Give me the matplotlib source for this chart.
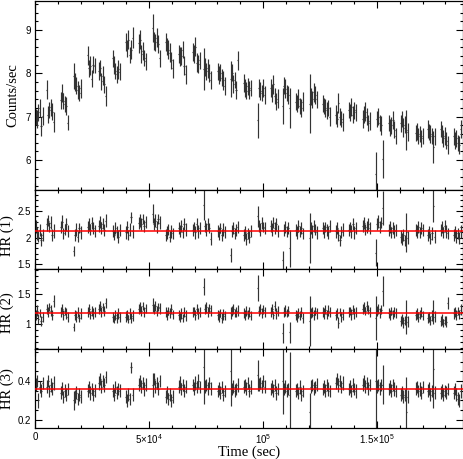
import numpy as np
import matplotlib
matplotlib.use("Agg")
import matplotlib.pyplot as plt
from matplotlib.ticker import MultipleLocator, FixedLocator, FixedFormatter, FuncFormatter

# ---------------- data ----------------
# start time (s) of each continuous data segment (satellite orbit)
clump_start = [0, 4825, 10965, 16667, 22807, 27632, 33772, 39474, 45176, 51316,
               57018, 62720, 68860, 73685, 79825, 85527, 91228, 97369, 103070,
               108334, 114036, 120176, 125878, 131580, 137281, 143422, 149124,
               154826, 160089, 166668, 171931, 177633, 183335]
bins_per_clump = 6
bin_width = 600.0

rate = [
    7.00, 6.95, 7.10, 7.20, 6.78, 7.02,
    7.62, 7.05, 7.15, 7.22, 7.12, 6.88,
    7.38, 7.55, 7.36, 7.30, 7.25, 6.86,
    7.95, 7.80, 7.72, 7.62, 7.55, 7.66,
    8.42, 8.12, 8.18, 7.88, 8.20, 8.18,
    8.05, 8.12, 7.82, 7.95, 7.75, 7.48,
    8.35, 8.20, 8.05, 7.98, 8.10, 8.04,
    8.72, 8.58, 8.78, 8.42, 8.55, 8.82,
    8.70, 8.78, 8.45, 8.52, 8.35, 8.28,
    9.05, 8.75, 8.72, 8.82, 8.68, 8.35,
    8.72, 8.62, 8.55, 8.48, 8.30, 8.12,
    8.45, 8.38, 8.40, 8.55, 8.18, 7.98,
    8.50, 8.45, 8.62, 8.25, 8.22, 8.30,
    8.10, 8.15, 8.05, 8.12, 8.00, 7.85,
    8.05, 7.96, 8.02, 7.90, 7.84, 7.70,
    7.87, 8.02, 7.75, 7.85, 7.62, 8.30,
    7.78, 7.66, 7.60, 7.70, 7.62, 7.66,
    6.92, 7.66, 7.60, 7.55, 7.66, 7.50,
    7.66, 7.55, 7.75, 7.48, 7.35, 7.42,
    7.25, 7.72, 7.65, 7.55, 7.50, 7.20,
    7.35, 7.30, 7.42, 7.25, 7.20, 7.35,
    7.30, 7.46, 7.40, 7.56, 7.50, 7.40,
    7.30, 7.25, 7.20, 7.15, 7.20, 7.00,
    7.05, 6.95, 7.32, 7.00, 6.95, 6.88,
    7.15, 7.10, 7.22, 7.05, 7.15, 7.10,
    6.95, 7.05, 7.12, 7.00, 6.85, 6.90,
    5.68, 6.95, 7.00, 6.85, 6.80, 6.02,
    6.86, 6.75, 6.80, 6.92, 6.70, 6.55,
    6.85, 6.95, 6.75, 6.82, 6.70, 6.65,
    6.62, 6.66, 6.55, 6.60, 6.50, 6.56,
    6.72, 6.65, 6.60, 6.55, 6.30, 6.55,
    6.72, 6.60, 6.50, 6.55, 6.45, 6.35,
    6.55, 6.45, 6.50, 6.40, 6.35, 6.72,
]
rate_err = [
    0.18, 0.20, 0.19, 0.21, 0.22, 0.20,
    0.22, 0.19, 0.18, 0.20, 0.19, 0.24,
    0.20, 0.21, 0.19, 0.18, 0.20, 0.17,
    0.30, 0.20, 0.19, 0.21, 0.18, 0.22,
    0.22, 0.20, 0.21, 0.19, 0.20, 0.18,
    0.21, 0.19, 0.20, 0.22, 0.20, 0.23,
    0.20, 0.21, 0.19, 0.20, 0.22, 0.20,
    0.21, 0.20, 0.22, 0.19, 0.21, 0.24,
    0.22, 0.21, 0.20, 0.21, 0.19, 0.20,
    0.32, 0.21, 0.20, 0.22, 0.21, 0.20,
    0.21, 0.20, 0.22, 0.21, 0.20, 0.22,
    0.20, 0.22, 0.21, 0.20, 0.21, 0.22,
    0.21, 0.20, 0.22, 0.21, 0.20, 0.19,
    0.48, 0.21, 0.20, 0.22, 0.21, 0.20,
    0.20, 0.21, 0.19, 0.20, 0.22, 0.21,
    0.42, 0.20, 0.21, 0.19, 0.20, 0.22,
    0.20, 0.21, 0.19, 0.20, 0.21, 0.19,
    0.40, 0.20, 0.21, 0.19, 0.20, 0.21,
    0.21, 0.20, 0.22, 0.19, 0.20, 0.21,
    0.42, 0.20, 0.21, 0.19, 0.20, 0.46,
    0.19, 0.20, 0.21, 0.19, 0.20, 0.21,
    0.68, 0.20, 0.19, 0.21, 0.20, 0.19,
    0.20, 0.19, 0.21, 0.20, 0.19, 0.22,
    0.21, 0.19, 0.23, 0.20, 0.19, 0.21,
    0.19, 0.20, 0.21, 0.19, 0.20, 0.19,
    0.20, 0.19, 0.21, 0.20, 0.19, 0.21,
    0.50, 0.19, 0.20, 0.19, 0.21, 0.44,
    0.19, 0.20, 0.19, 0.21, 0.20, 0.19,
    0.20, 0.19, 0.21, 0.20, 0.46, 0.20,
    0.19, 0.20, 0.19, 0.18, 0.20, 0.19,
    0.20, 0.19, 0.20, 0.19, 0.36, 0.20,
    0.19, 0.20, 0.19, 0.21, 0.19, 0.20,
    0.20, 0.19, 0.20, 0.19, 0.20, 0.21,
]

hr1 = [
    2.22, 2.08, 2.02, 2.15, 1.96, 2.05,
    2.25, 2.32, 2.20, 2.28, 2.05, 2.12,
    2.20, 2.30, 2.08, 2.15, 2.25, 2.12,
    1.75, 2.05, 2.15, 2.02, 2.18, 2.10,
    2.20, 2.25, 2.15, 2.28, 2.18, 2.12,
    2.22, 2.30, 2.18, 2.26, 2.15, 2.32,
    2.12, 2.05, 2.18, 2.10, 2.02, 2.15,
    2.10, 2.20, 2.05, 2.15, 2.38, 2.12,
    2.28, 2.32, 2.25, 2.35, 2.22, 2.30,
    2.45, 2.25, 2.32, 2.20, 2.35, 2.28,
    2.05, 2.10, 2.15, 2.02, 2.12, 2.08,
    2.18, 2.12, 2.22, 2.10, 2.25, 2.15,
    2.15, 2.20, 2.10, 2.25, 2.12, 2.18,
    2.62, 2.22, 2.15, 2.25, 2.18, 1.98,
    2.12, 2.08, 2.18, 2.05, 2.15, 2.10,
    1.67, 2.12, 2.18, 2.08, 2.15, 2.20,
    2.05, 2.10, 1.98, 2.08, 2.02, 2.12,
    2.40, 2.22, 2.15, 2.28, 2.20, 2.18,
    2.22, 2.15, 2.28, 2.18, 2.25, 2.12,
    1.58, 2.15, 2.20, 2.12, 2.18, 1.80,
    2.15, 2.10, 2.22, 2.12, 2.18, 2.08,
    2.00, 2.18, 2.12, 2.22, 2.15, 2.10,
    2.18, 2.12, 2.20, 2.15, 2.10, 2.22,
    2.12, 2.18, 2.05, 1.95, 2.10, 2.15,
    2.15, 2.20, 2.12, 2.25, 2.10, 2.18,
    2.22, 2.28, 2.15, 2.20, 2.25, 2.18,
    1.72, 2.25, 2.30, 2.20, 2.28, 2.55,
    2.15, 2.20, 2.10, 2.18, 2.12, 2.15,
    2.02, 1.98, 2.05, 1.95, 2.10, 2.00,
    2.15, 2.12, 2.20, 2.10, 2.18, 2.15,
    2.05, 2.10, 1.98, 2.08, 2.60, 2.02,
    2.15, 2.20, 2.10, 2.22, 2.12, 2.08,
    2.05, 2.10, 2.02, 2.08, 2.00, 2.12,
]
hr1_err = [
    0.11, 0.12, 0.10, 0.11, 0.12, 0.11,
    0.12, 0.11, 0.10, 0.12, 0.11, 0.13,
    0.11, 0.12, 0.11, 0.10, 0.12, 0.11,
    0.10, 0.11, 0.12, 0.11, 0.10, 0.12,
    0.11, 0.12, 0.10, 0.11, 0.12, 0.11,
    0.12, 0.11, 0.12, 0.10, 0.11, 0.12,
    0.11, 0.10, 0.12, 0.11, 0.12, 0.11,
    0.12, 0.11, 0.10, 0.12, 0.11, 0.12,
    0.11, 0.12, 0.11, 0.10, 0.12, 0.11,
    0.18, 0.11, 0.12, 0.11, 0.10, 0.12,
    0.11, 0.12, 0.10, 0.11, 0.12, 0.11,
    0.12, 0.11, 0.12, 0.10, 0.11, 0.12,
    0.11, 0.10, 0.12, 0.11, 0.12, 0.11,
    0.28, 0.11, 0.12, 0.11, 0.10, 0.12,
    0.11, 0.12, 0.10, 0.11, 0.12, 0.11,
    0.13, 0.11, 0.12, 0.10, 0.11, 0.12,
    0.11, 0.12, 0.11, 0.10, 0.12, 0.11,
    0.20, 0.11, 0.12, 0.11, 0.10, 0.12,
    0.11, 0.12, 0.10, 0.11, 0.12, 0.11,
    0.17, 0.11, 0.12, 0.10, 0.11, 0.35,
    0.11, 0.12, 0.11, 0.10, 0.12, 0.11,
    0.47, 0.11, 0.12, 0.11, 0.10, 0.12,
    0.11, 0.12, 0.10, 0.11, 0.12, 0.11,
    0.12, 0.11, 0.12, 0.10, 0.11, 0.12,
    0.11, 0.10, 0.12, 0.11, 0.12, 0.11,
    0.12, 0.11, 0.10, 0.12, 0.11, 0.12,
    0.26, 0.11, 0.12, 0.11, 0.10, 0.32,
    0.11, 0.12, 0.10, 0.11, 0.12, 0.11,
    0.12, 0.11, 0.12, 0.10, 0.36, 0.12,
    0.11, 0.12, 0.11, 0.10, 0.12, 0.11,
    0.12, 0.11, 0.10, 0.12, 0.30, 0.12,
    0.11, 0.12, 0.10, 0.11, 0.12, 0.11,
    0.12, 0.11, 0.12, 0.10, 0.11, 0.12,
]

hr2 = [
    1.15, 1.22, 1.08, 1.18, 1.05, 1.12,
    1.25, 1.20, 1.28, 1.22, 1.15, 1.38,
    1.20, 1.25, 1.15, 1.22, 1.18, 1.12,
    0.95, 1.15, 1.12, 1.20, 1.10, 1.18,
    1.20, 1.25, 1.15, 1.22, 1.18, 1.20,
    1.25, 1.30, 1.20, 1.28, 1.22, 1.35,
    1.12, 1.08, 1.15, 1.10, 1.18, 1.12,
    1.12, 1.15, 1.08, 1.18, 1.10, 1.14,
    1.25, 1.28, 1.22, 1.30, 1.20, 1.26,
    1.32, 1.25, 1.30, 1.22, 1.28, 1.26,
    1.20, 1.15, 1.22, 1.18, 1.25, 1.16,
    1.15, 1.12, 1.18, 1.10, 1.20, 1.14,
    1.20, 1.22, 1.15, 1.25, 1.18, 1.20,
    1.62, 1.25, 1.28, 1.20, 1.26, 1.22,
    1.15, 1.12, 1.18, 1.10, 1.16, 1.14,
    1.18, 1.22, 1.25, 1.18, 1.20, 1.22,
    1.18, 1.15, 1.22, 1.16, 1.20, 1.14,
    1.60, 1.22, 1.25, 1.18, 1.24, 1.20,
    1.20, 1.25, 1.15, 1.30, 1.18, 1.22,
    0.85, 1.20, 1.22, 1.18, 1.22, 0.86,
    1.15, 1.12, 1.18, 1.14, 1.20, 1.10,
    1.05, 1.18, 1.20, 1.15, 1.22, 1.18,
    1.20, 1.18, 1.24, 1.16, 1.22, 1.20,
    1.15, 1.18, 1.02, 1.20, 1.12, 1.16,
    1.20, 1.22, 1.16, 1.24, 1.18, 1.20,
    1.25, 1.28, 1.22, 1.30, 1.24, 1.20,
    1.10, 1.22, 1.25, 1.18, 1.24, 1.55,
    1.18, 1.15, 1.22, 1.16, 1.20, 1.18,
    1.05, 1.08, 1.02, 1.06, 1.12, 1.04,
    1.15, 1.18, 1.12, 1.16, 1.20, 1.14,
    1.10, 1.12, 1.06, 1.14, 1.20, 1.12,
    1.05, 1.08, 1.02, 1.06, 1.04, 1.35,
    1.18, 1.20, 1.15, 1.22, 1.16, 1.24,
]
hr2_err = [
    0.08, 0.09, 0.08, 0.07, 0.09, 0.08,
    0.09, 0.08, 0.07, 0.09, 0.08, 0.10,
    0.08, 0.09, 0.08, 0.07, 0.09, 0.08,
    0.07, 0.08, 0.09, 0.08, 0.07, 0.09,
    0.08, 0.09, 0.07, 0.08, 0.09, 0.08,
    0.09, 0.08, 0.09, 0.07, 0.08, 0.09,
    0.08, 0.07, 0.09, 0.08, 0.09, 0.08,
    0.09, 0.08, 0.07, 0.09, 0.08, 0.09,
    0.08, 0.09, 0.08, 0.07, 0.09, 0.08,
    0.12, 0.08, 0.09, 0.08, 0.07, 0.09,
    0.08, 0.09, 0.07, 0.08, 0.09, 0.08,
    0.09, 0.08, 0.09, 0.07, 0.08, 0.09,
    0.08, 0.07, 0.09, 0.08, 0.09, 0.08,
    0.14, 0.08, 0.09, 0.08, 0.07, 0.09,
    0.08, 0.09, 0.07, 0.08, 0.09, 0.08,
    0.10, 0.08, 0.09, 0.07, 0.08, 0.09,
    0.08, 0.09, 0.08, 0.07, 0.09, 0.08,
    0.22, 0.08, 0.09, 0.08, 0.07, 0.09,
    0.08, 0.09, 0.07, 0.08, 0.09, 0.08,
    0.17, 0.08, 0.09, 0.07, 0.08, 0.17,
    0.08, 0.09, 0.08, 0.07, 0.09, 0.08,
    0.42, 0.08, 0.09, 0.08, 0.07, 0.09,
    0.08, 0.09, 0.07, 0.08, 0.09, 0.08,
    0.09, 0.08, 0.09, 0.07, 0.08, 0.09,
    0.08, 0.07, 0.09, 0.08, 0.09, 0.08,
    0.09, 0.08, 0.07, 0.09, 0.08, 0.09,
    0.36, 0.08, 0.09, 0.08, 0.07, 0.25,
    0.08, 0.09, 0.07, 0.08, 0.09, 0.08,
    0.09, 0.08, 0.09, 0.07, 0.28, 0.09,
    0.08, 0.09, 0.08, 0.07, 0.09, 0.08,
    0.09, 0.08, 0.07, 0.09, 0.20, 0.09,
    0.08, 0.09, 0.07, 0.08, 0.09, 0.10,
    0.09, 0.08, 0.09, 0.07, 0.08, 0.09,
]

hr3 = [
    0.38, 0.40, 0.30, 0.37, 0.35, 0.39,
    0.37, 0.40, 0.35, 0.38, 0.36, 0.39,
    0.34, 0.36, 0.32, 0.35, 0.33, 0.36,
    0.30, 0.32, 0.34, 0.31, 0.33, 0.32,
    0.35, 0.37, 0.34, 0.36, 0.33, 0.35,
    0.39, 0.41, 0.37, 0.40, 0.38, 0.42,
    0.35, 0.33, 0.37, 0.34, 0.36, 0.35,
    0.32, 0.30, 0.33, 0.31, 0.47, 0.33,
    0.38, 0.40, 0.37, 0.39, 0.36, 0.38,
    0.38, 0.41, 0.37, 0.39, 0.36, 0.40,
    0.32, 0.34, 0.31, 0.33, 0.30, 0.32,
    0.37, 0.39, 0.36, 0.38, 0.35, 0.37,
    0.38, 0.36, 0.39, 0.37, 0.40, 0.37,
    0.47, 0.37, 0.38, 0.36, 0.39, 0.36,
    0.35, 0.36, 0.34, 0.37, 0.33, 0.35,
    0.45, 0.36, 0.37, 0.35, 0.36, 0.38,
    0.37, 0.38, 0.36, 0.39, 0.35, 0.37,
    0.43, 0.38, 0.39, 0.37, 0.40, 0.37,
    0.36, 0.37, 0.35, 0.38, 0.34, 0.36,
    0.40, 0.36, 0.37, 0.35, 0.36, 0.33,
    0.35, 0.36, 0.34, 0.37, 0.33, 0.35,
    0.24, 0.37, 0.38, 0.36, 0.37, 0.38,
    0.36, 0.37, 0.35, 0.38, 0.36, 0.35,
    0.39, 0.41, 0.38, 0.40, 0.37, 0.39,
    0.36, 0.37, 0.35, 0.38, 0.36, 0.35,
    0.38, 0.40, 0.37, 0.39, 0.36, 0.38,
    0.40, 0.37, 0.38, 0.36, 0.38, 0.38,
    0.36, 0.37, 0.35, 0.38, 0.36, 0.35,
    0.33, 0.34, 0.32, 0.33, 0.24, 0.32,
    0.36, 0.37, 0.35, 0.36, 0.34, 0.37,
    0.35, 0.36, 0.33, 0.35, 0.46, 0.34,
    0.34, 0.35, 0.33, 0.35, 0.34, 0.36,
    0.34, 0.36, 0.33, 0.31, 0.30, 0.35,
]
hr3_err = [
    0.033, 0.030, 0.036, 0.032, 0.034, 0.031,
    0.034, 0.032, 0.030, 0.035, 0.033, 0.036,
    0.032, 0.034, 0.031, 0.033, 0.035, 0.032,
    0.050, 0.033, 0.034, 0.031, 0.032, 0.034,
    0.033, 0.031, 0.035, 0.032, 0.034, 0.033,
    0.034, 0.032, 0.033, 0.031, 0.035, 0.032,
    0.033, 0.035, 0.032, 0.034, 0.031, 0.033,
    0.032, 0.034, 0.033, 0.031, 0.030, 0.034,
    0.033, 0.031, 0.034, 0.032, 0.035, 0.033,
    0.060, 0.032, 0.034, 0.031, 0.033, 0.032,
    0.034, 0.032, 0.031, 0.035, 0.033, 0.032,
    0.033, 0.034, 0.032, 0.031, 0.034, 0.033,
    0.032, 0.033, 0.035, 0.032, 0.034, 0.031,
    0.190, 0.033, 0.032, 0.034, 0.031, 0.033,
    0.032, 0.034, 0.033, 0.031, 0.035, 0.032,
    0.180, 0.032, 0.034, 0.033, 0.031, 0.034,
    0.033, 0.031, 0.034, 0.032, 0.033, 0.035,
    0.080, 0.033, 0.031, 0.034, 0.032, 0.033,
    0.032, 0.034, 0.033, 0.031, 0.035, 0.032,
    0.170, 0.032, 0.034, 0.033, 0.031, 0.220,
    0.034, 0.032, 0.031, 0.035, 0.033, 0.032,
    0.100, 0.033, 0.032, 0.034, 0.031, 0.033,
    0.032, 0.034, 0.033, 0.031, 0.035, 0.032,
    0.033, 0.032, 0.034, 0.033, 0.031, 0.034,
    0.032, 0.033, 0.031, 0.034, 0.032, 0.035,
    0.033, 0.031, 0.034, 0.032, 0.033, 0.031,
    0.300, 0.033, 0.032, 0.034, 0.031, 0.100,
    0.032, 0.034, 0.033, 0.031, 0.035, 0.032,
    0.033, 0.032, 0.034, 0.031, 0.180, 0.033,
    0.034, 0.032, 0.031, 0.035, 0.033, 0.032,
    0.033, 0.034, 0.032, 0.031, 0.200, 0.033,
    0.032, 0.033, 0.035, 0.032, 0.034, 0.031,
    0.033, 0.031, 0.034, 0.032, 0.033, 0.035,
]

hr_means = [2.13, 1.183, 0.357]          # red reference lines
ylabels = ["Counts/sec", "HR (1)", "HR (2)", "HR (3)"]
xlabel = "Time (sec)"
xtick_values = [0, 50000, 100000, 150000]
xtick_labels = ["0", r"$\mathregular{5{\times}10^4}$", r"$\mathregular{10^5}$",
                r"$\mathregular{1.5{\times}10^5}$"]

# ---------------- figure ----------------
times = np.array([s + (k + 0.5) * bin_width
                  for s in clump_start for k in range(bins_per_clump)])

plt.rcParams["font.family"] = ["Liberation Sans", "DejaVu Sans"]

W, H = 464, 459
fig = plt.figure(figsize=(W / 100, H / 100), dpi=100)

left_px, right_px = 35, 463
panels_px = [(1, 190), (190, 269.3), (269.3, 349.3), (349.3, 428.3)]
ylims = [(5.31, 9.67), (1.406, 2.894), (0.578, 1.912), (0.1574, 0.5626)]
ymajor = [1.0, 0.5, 0.5, 0.2]
yminor = [0.2, 0.1, 0.1, 0.05]
series = [(rate, rate_err), (hr1, hr1_err), (hr2, hr2_err), (hr3, hr3_err)]
label_x_px = [12.5, 7.0, 7.0, 7.0]
label_y_shift = [0, 6, 3, 0]

tick_size = 7
label_font = dict(family="Liberation Serif", size=10.5)
fmt = FuncFormatter(lambda v, p: "%g" % round(v, 6))

for i, ((top, bot), yl) in enumerate(zip(panels_px, ylims)):
    ax = fig.add_axes([left_px / W, 1 - bot / H,
                       (right_px - left_px) / W, (bot - top) / H])
    vals, errs = series[i]
    ax.errorbar(times, vals, yerr=errs, xerr=bin_width / 2, fmt="none",
                ecolor="#333333", elinewidth=0.85, capsize=0, zorder=2)
    if i > 0:
        ax.axhline(hr_means[i - 1], color="red", lw=1.1, zorder=3)
    ax.set_xlim(0, 187700)
    ax.set_ylim(*yl)
    ax.xaxis.set_major_locator(FixedLocator(xtick_values))
    ax.xaxis.set_minor_locator(MultipleLocator(10000))
    ax.yaxis.set_major_locator(MultipleLocator(ymajor[i]))
    ax.yaxis.set_minor_locator(MultipleLocator(yminor[i]))
    ax.yaxis.set_major_formatter(fmt)
    ax.tick_params(which="both", direction="in", top=True, right=True,
                   width=0.8, color="black", labelsize=tick_size)
    ax.tick_params(which="major", length=5, pad=3)
    ax.tick_params(which="minor", length=2.5)
    ax.tick_params(axis="x", which="major", pad=3)
    for sp in ax.spines.values():
        sp.set_linewidth(0.9)
    if i < 3:
        ax.tick_params(axis="x", labelbottom=False)
    else:
        ax.xaxis.set_major_formatter(FixedFormatter(xtick_labels))
    fig.text(label_x_px[i] / W, 1 - ((top + bot) / 2 + label_y_shift[i]) / H,
             ylabels[i], rotation=90, ha="center", va="center", **label_font)

fig.text((left_px + right_px) / 2 / W, 1 - 452.5 / H, xlabel,
         ha="center", va="center", **label_font)

fig.savefig("out.png", dpi=100)
